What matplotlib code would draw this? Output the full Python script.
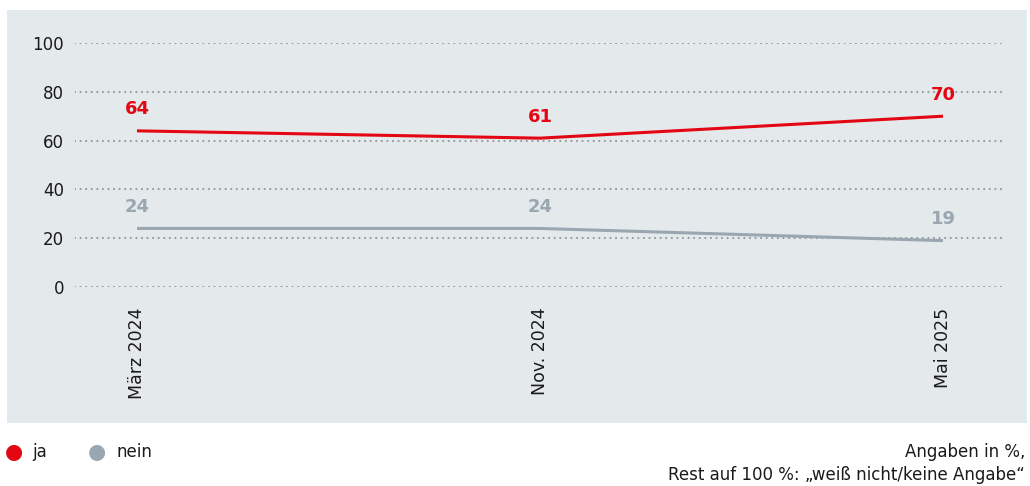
import matplotlib
matplotlib.use("Agg")
import matplotlib.pyplot as plt
from matplotlib.patches import Rectangle

categories = ["März 2024", "Nov. 2024", "Mai 2025"]
ja = [64, 61, 70]
nein = [24, 24, 19]
yticks = [0, 20, 40, 60, 80, 100]

RED = "#e30613"
GRAY = "#9aa7b0"
BG = "#e4e9ec"

plt.rcParams['font.family'] = ['DejaVu Sans']
W, H = 1030, 486
fig = plt.figure(figsize=(W / 100, H / 100), dpi=100)
fig.patches.append(Rectangle((7 / W, 1 - 423 / H), 1020 / W, 413 / H,
                             transform=fig.transFigure, facecolor=BG,
                             edgecolor="none", zorder=-10))

ax = fig.add_axes([75 / W, 1 - 287 / H, 927 / W, 244 / H])
ax.set_zorder(1)
ax.set_facecolor("none")
x = list(range(len(categories)))
ax.set_xlim(-62 / 403, 2 + 59 / 403)
ax.set_ylim(0, 100)

for y in yticks:
    ax.axhline(y, color="#959ca1", lw=1.6, ls=(0, (0.01, 2.5)),
               dash_capstyle="round", zorder=1)

ax.plot(x, ja, color=RED, lw=2.2, zorder=3, solid_capstyle="butt")
ax.plot(x, nein, color=GRAY, lw=2.2, zorder=3, solid_capstyle="butt")
for xi, v in zip(x, ja):
    ax.annotate(str(v), (xi, v), xytext=(0, 9), textcoords="offset points",
                ha="center", va="bottom", color=RED, fontsize=13,
                fontweight="bold")
for xi, v in zip(x, nein):
    ax.annotate(str(v), (xi, v), xytext=(0, 9), textcoords="offset points",
                ha="center", va="bottom", color=GRAY, fontsize=13,
                fontweight="bold")

for s in ax.spines.values():
    s.set_visible(False)
ax.set_yticks(yticks)
ax.set_yticklabels([str(t) for t in yticks], fontsize=12, color="#1a1a1a")
ax.tick_params(axis="y", length=0, pad=8)
ax.set_xticks(x)
ax.set_xticklabels(categories, rotation=90, fontsize=12.5, color="#1a1a1a",
                   va="top", ha="center")
ax.tick_params(axis="x", length=0, pad=15)

# legend
fig.text(14 / W, 1 - 452 / H, "●", color=RED, fontsize=15, ha="center", va="center")
fig.text(32 / W, 1 - 452 / H, "ja", color="#1a1a1a", fontsize=12, ha="left", va="center")
fig.text(97 / W, 1 - 452 / H, "●", color=GRAY, fontsize=15, ha="center", va="center")
fig.text(116 / W, 1 - 452 / H, "nein", color="#1a1a1a", fontsize=12, ha="left", va="center")

fig.text(1025 / W, 1 - 452 / H, "Angaben in %,", color="#1a1a1a", fontsize=12,
         ha="right", va="center")
fig.text(1025 / W, 1 - 475 / H, "Rest auf 100 %: „weiß nicht/keine Angabe“",
         color="#1a1a1a", fontsize=12, ha="right", va="center")

fig.savefig("out.png", dpi=100)
